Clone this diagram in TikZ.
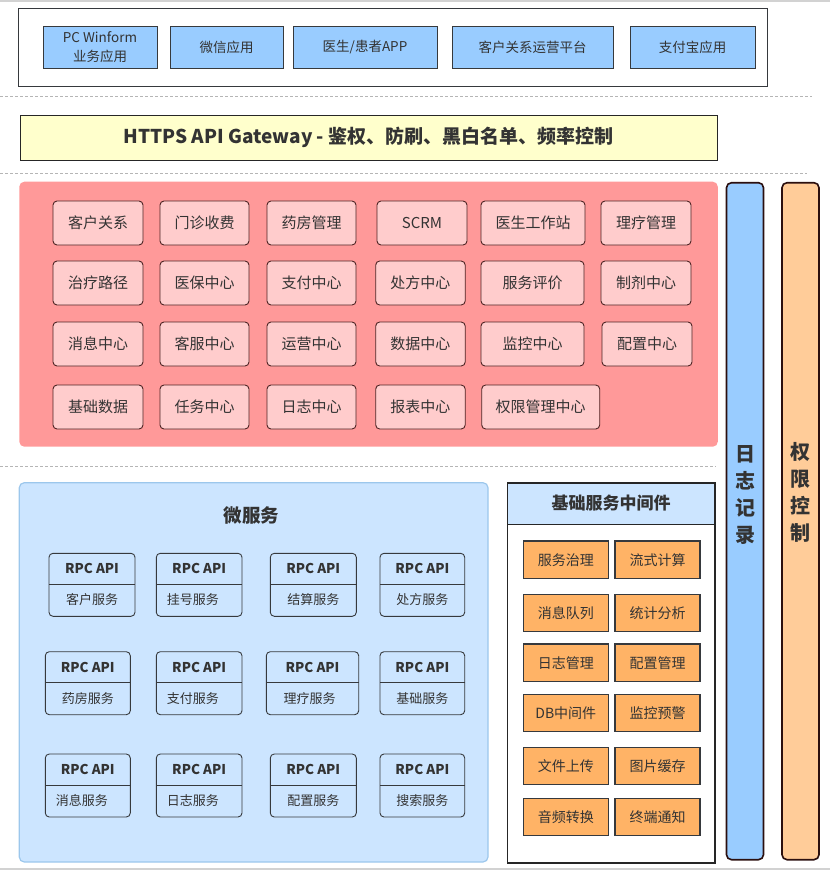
\documentclass[tikz,border=0pt]{standalone}
\usepackage{fontspec}
\setmainfont{Noto Sans CJK SC}
\usetikzlibrary{calc}
\definecolor{txt}{HTML}{333333}
\definecolor{appfill}{HTML}{99CCFF}
\definecolor{gwfill}{HTML}{FFFFCC}
\definecolor{redarea}{HTML}{FF9999}
\definecolor{redbox}{HTML}{FFCCCC}
\definecolor{redline}{HTML}{4D2424}
\definecolor{msfill}{HTML}{CCE5FF}
\definecolor{msline}{HTML}{9CC7EC}
\definecolor{darkline}{HTML}{36393D}
\definecolor{orfill}{HTML}{FFB366}
\definecolor{barorange}{HTML}{FFCC99}
\definecolor{barline}{HTML}{2B0F0F}
\definecolor{dashgray}{HTML}{B5B5B5}
\tikzset{
  base/.style={inner sep=0pt, outer sep=0pt, anchor=north west, text=txt, align=center},
  appbox/.style={base, draw=darkline, fill=appfill, line width=0.8pt, font=\fontsize{13.5}{17}\selectfont},
  gwbox/.style={base, draw=black!85, fill=gwfill, line width=0.8pt, font=\fontsize{19}{22}\selectfont\bfseries},
  modbox/.style={base, draw=redline, fill=redbox, line width=0.9pt, rounded corners=4pt, minimum height=44pt, font=\fontsize{15}{18}\selectfont},
  rpcbox/.style={base, draw=darkline, fill=msfill, line width=0.9pt, rounded corners=4pt, minimum height=63pt},
  rpctop/.style={text=txt, inner sep=0pt, font=\fontsize{13.5}{16}\selectfont\bfseries},
  rpclab/.style={text=txt, inner sep=0pt, font=\fontsize{13}{16}\selectfont},
  midbox/.style={base, draw=darkline, fill=orfill, line width=1.2pt, minimum width=85pt, minimum height=37.5pt, font=\fontsize{14}{17}\selectfont},
  vbar/.style={base, line width=1.6pt, draw=barline, rounded corners=5pt, minimum width=37pt, minimum height=677pt},
  vtext/.style={text=txt, inner sep=0pt, align=center, font=\fontsize{20}{27}\selectfont\bfseries},
  sepline/.style={draw=dashgray, line width=0.9pt, dash pattern=on 3pt off 2pt}
}
\begin{document}
\begin{tikzpicture}[x=1pt,y=-1pt]
\useasboundingbox (0,0) rectangle (830,870);
% frame lines
\coordinate (tl) at (0,0.8); \coordinate (tr) at (830,0.8);
\coordinate (bl) at (0,868.8); \coordinate (br) at (830,868.8);
\draw[gray!35, line width=1.6pt] (tl) -- (tr);
\draw[gray!35, line width=1.6pt] (bl) -- (br);
% client layer
\node[base, draw=darkline, line width=0.8pt, minimum width=749pt, minimum height=78pt] (clients) at (18.5,8.5) {};
\node[appbox, minimum width=114pt, minimum height=42pt] (a1) at (43,26) {PC Winform\\[1.5pt]业务应用};
\node[appbox, minimum width=113pt, minimum height=42pt] (a2) at (170,26) {微信应用};
\node[appbox, minimum width=144pt, minimum height=42pt] (a3) at (293,26) {医生/患者APP};
\node[appbox, minimum width=161pt, minimum height=42pt] (a4) at (452,26) {客户关系运营平台};
\node[appbox, minimum width=125pt, minimum height=42pt] (a5) at (630,26) {支付宝应用};
% separators
\coordinate (s1a) at (0,96.7); \coordinate (s1b) at (812,96.7);
\coordinate (s2a) at (0,173.5); \coordinate (s2b) at (807,173.5);
\coordinate (s3a) at (0,466.7); \coordinate (s3b) at (716,466.7);
\draw[sepline] (s1a) -- (s1b);
\draw[sepline] (s2a) -- (s2b);
\draw[sepline] (s3a) -- (s3b);
% gateway
\node[gwbox, minimum width=697pt, minimum height=45pt] (gw) at (20,115) {HTTPS API Gateway - 鉴权、防刷、黑白名单、频率控制};
% business modules
\node[base, fill=redarea, rounded corners=5pt, minimum width=698.5pt, minimum height=265pt] (redarea) at (19.3,181.7) {};
\node[modbox, minimum width=90pt] (m11) at (53,201) {客户关系};
\node[modbox, minimum width=89pt] (m12) at (160,201) {门诊收费};
\node[modbox, minimum width=89pt] (m13) at (267,201) {药房管理};
\node[modbox, minimum width=90pt] (m14) at (377,201) {SCRM};
\node[modbox, minimum width=104pt] (m15) at (481,201) {医生工作站};
\node[modbox, minimum width=90pt] (m16) at (601,201) {理疗管理};
\node[modbox, minimum width=90pt] (m21) at (53,261) {治疗路径};
\node[modbox, minimum width=89pt] (m22) at (160,261) {医保中心};
\node[modbox, minimum width=89pt] (m23) at (267,261) {支付中心};
\node[modbox, minimum width=89.5pt] (m24) at (375.7,261) {处方中心};
\node[modbox, minimum width=103pt] (m25) at (481,261) {服务评价};
\node[modbox, minimum width=90pt] (m26) at (601,261) {制剂中心};
\node[modbox, minimum width=90pt] (m31) at (53,322) {消息中心};
\node[modbox, minimum width=89pt] (m32) at (160,322) {客服中心};
\node[modbox, minimum width=89pt] (m33) at (267,322) {运营中心};
\node[modbox, minimum width=89.5pt] (m34) at (375.7,322) {数据中心};
\node[modbox, minimum width=103pt] (m35) at (481,322) {监控中心};
\node[modbox, minimum width=90pt] (m36) at (602,322) {配置中心};
\node[modbox, minimum width=90pt] (m41) at (53,385) {基础数据};
\node[modbox, minimum width=89pt] (m42) at (160,385) {任务中心};
\node[modbox, minimum width=89pt] (m43) at (267,385) {日志中心};
\node[modbox, minimum width=89.5pt] (m44) at (375.7,385) {报表中心};
\node[modbox, minimum width=118pt] (m45) at (481.7,385) {权限管理中心};
% micro services
\node[base, draw=msline, fill=msfill, line width=1.2pt, rounded corners=5pt, minimum width=468.7pt, minimum height=379.3pt] (ms) at (19.3,482.7) {};
\node[text=txt, inner sep=0pt, font=\fontsize{18.5}{22}\selectfont\bfseries] (mstitle) at (251.7,515) {微服务};
% RPC boxes: name, x, y, width, label, align(c/l/p)
\foreach \n/\x/\y/\w/\lab/\al in {
  r1/49/553.3/86/客户服务/c, r2/156.3/553.3/85.7/挂号服务/l, r3/270.3/553.3/86/结算服务/c, r4/380/553.3/84.7/处方服务/c,
  r5/45.3/651.7/85/药房服务/c, r6/156.3/651.7/85.7/支付服务/l, r7/266.3/651.7/92.4/理疗服务/p, r8/380/651.7/84.7/基础服务/c,
  r9/45.3/754/85/消息服务/l, r10/156.3/754/85.7/日志服务/l, r11/270.3/754/86/配置服务/c, r12/380/754/84.7/搜索服务/c}{
  \node[rpcbox, minimum width=\w pt] (\n) at (\x,\y) {};
  \coordinate (\n dl) at ($(\n.north west)+(0,31)$);
  \coordinate (\n dr) at ($(\n.north east)+(0,31)$);
  \draw[darkline, line width=0.9pt] (\n dl) -- (\n dr);
  \node[rpctop] (\n t) at ($(\n.north)+(0,15.5)$) {RPC API};
  \if\al c
    \node[rpclab] (\n b) at ($(\n.south)+(0,-16.3)$) {\lab};
  \fi
  \if\al l
    \node[rpclab, anchor=west] (\n b) at ($(\n.south west)+(10.3,-16.3)$) {\lab};
  \fi
  \if\al p
    \node[rpclab] (\n b) at ($(\n.south)+(-3,-16.3)$) {\lab};
  \fi
}
% middleware
\node[base, draw=black!85, fill=white, line width=1.6pt, minimum width=207.7pt, minimum height=380pt] (mw) at (507.3,482.7) {};
\node[base, draw=black!85, fill=msfill, line width=1.6pt, minimum width=207.7pt, minimum height=41.6pt, font=\fontsize{17}{20}\selectfont\bfseries] (mwh) at (507.3,482.7) {基础服务中间件};
\node[midbox] (o11) at (523.3,541) {服务治理};
\node[midbox] (o12) at (615,541) {流式计算};
\node[midbox] (o21) at (523.3,594.3) {消息队列};
\node[midbox] (o22) at (615,594.3) {统计分析};
\node[midbox] (o31) at (523.3,644) {日志管理};
\node[midbox] (o32) at (615,644) {配置管理};
\node[midbox] (o41) at (523.3,694.3) {DB中间件};
\node[midbox] (o42) at (615,694.3) {监控预警};
\node[midbox] (o51) at (523.3,747.3) {文件上传};
\node[midbox] (o52) at (615,747.3) {图片缓存};
\node[midbox] (o61) at (523.3,798.3) {音频转换};
\node[midbox] (o62) at (615,798.3) {终端通知};
% side bars
\node[vbar, fill=appfill] (logbar) at (726.5,182.7) {};
\node[vbar, fill=barorange] (authbar) at (782,182.7) {};
\node[vtext] (logtxt) at (745,495) {日\\志\\记\\录};
\node[vtext] (authtxt) at (800.3,492.7) {权\\限\\控\\制};
\end{tikzpicture}
\end{document}
